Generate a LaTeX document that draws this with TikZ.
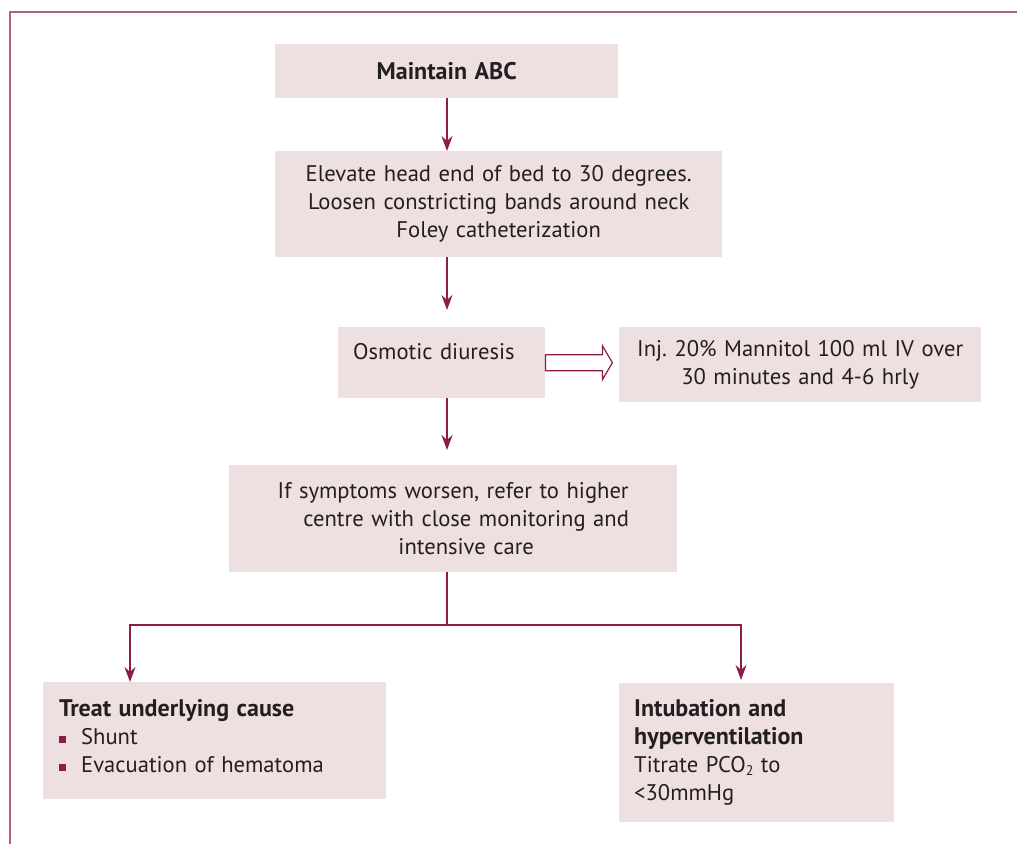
\documentclass[tikz,border=0pt]{standalone}
\usepackage{fontspec}
\setmainfont{PT Sans}
\usetikzlibrary{positioning, arrows.meta, calc}
\definecolor{boxfill}{RGB}{238,223,224}
\definecolor{wine}{RGB}{139,28,76}
\definecolor{framecol}{RGB}{180,98,128}
\definecolor{ink}{RGB}{35,31,32}
\newcommand{\sqitem}{\textcolor{wine}{\rule[1pt]{7pt}{7pt}}\hspace{15pt}}
\newcommand{\head}[1]{{\fontsize{24}{28}\selectfont\bfseries #1}}
\newcommand{\lowsub}[1]{\raisebox{-3pt}{\fontsize{14}{14}\selectfont #1}}
\frenchspacing
\tikzset{
    box/.style={fill=boxfill, anchor=north west, inner xsep=10pt, inner ysep=0pt,
        align=center, text=ink, font=\fontsize{22.6}{28}\selectfont},
    line/.style={draw=wine, line width=1.2pt},
    flow/.style={line, -{Stealth[length=15pt, width=11pt]}},
    hollow/.style={draw=wine, fill=white, line width=1.2pt, line join=miter},
    frame/.style={draw=framecol, line width=2pt},
}

\begin{document}
\begin{tikzpicture}[x=1pt, y=-1pt]
    \useasboundingbox (0,0) rectangle (1017,844);

    % page frame
    \draw[frame] (10,844) -- (10,12) -- (1017,12);

    % main column
    \node[box, text width=323pt, minimum height=54pt] (abc) at (275,44) {\head{Maintain ABC}};
    \node[box, text width=427pt, minimum height=106pt] (elev) at (275,151)
        {Elevate head end of bed to 30 degrees.\\Loosen constricting bands around neck\\Foley catheterization};
    \node[box, inner xsep=15pt, align=left, text width=177pt, minimum height=71pt,
        text height=16pt, text depth=23pt] (osm) at (338,327) {Osmotic diuresis};
    \node[box, text width=342pt, minimum height=75pt] (mann) at (619,327)
        {Inj. 20\% Mannitol 100 ml IV over\\30 minutes and 4-6 hrly};
    \node[box, text width=428pt, minimum height=107pt] (refer) at (229,465)
        {If symptoms worsen, refer to higher\\\hspace*{26pt}centre with close monitoring and\\\hspace*{26pt}intensive care};

    % the two branches
    \node[box, inner xsep=16pt, align=left, text width=311pt, minimum height=117pt,
        text height=17pt, text depth=66pt] (treat) at (43,682)
        {\head{Treat underlying cause}\\\sqitem Shunt\\\sqitem Evacuation of hematoma};
    \node[box, inner xsep=15pt, align=left, text width=245pt, minimum height=139pt] (intub) at (619,683)
        {\head{Intubation and}\\\head{hyperventilation}\\Titrate PCO\lowsub{2} to\\<30mmHg};

    \coordinate (spine) at (447,0);
    \coordinate (lsplit) at (130,625);
    \coordinate (rsplit) at (741,625);

    \draw[flow] (spine |- abc.south) -- (spine |- elev.north);
    \draw[flow] (spine |- elev.south) -- ([yshift=17pt]spine |- osm.north);
    \draw[flow] (spine |- osm.south) -- ([yshift=15pt]spine |- refer.north);

    % hollow arrow to the dose box
    \draw[hollow] ($(osm.east)+(0,-8)$) -- ++(57,0) -- ++(0,-9) -- ++(10,17)
        -- ++(-10,17) -- ++(0,-9) -- ++(-57,0) -- cycle;

    \draw[line] (spine |- refer.south) -- (spine |- lsplit);
    \draw[flow] (spine |- lsplit) -- (lsplit) -- (lsplit |- treat.north);
    \draw[flow] (spine |- rsplit) -- (rsplit) -- ([yshift=3pt]rsplit |- intub.north);
\end{tikzpicture}
\end{document}
